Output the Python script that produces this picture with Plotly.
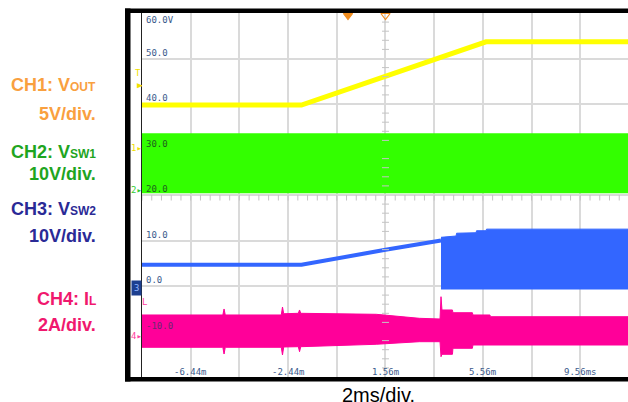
import numpy as np
import plotly.graph_objects as go

# ---------------- data ----------------
# CH1 Vout (yellow), screen units: 10 units per division
t_vout = [-8.44, -1.89, 5.69, 11.52]
v_vout = [39.78, 39.78, 53.67, 53.67]

# CH2 Vsw1 (green) switching envelope
t_sw1 = [-8.44, 11.52]
sw1_hi = [33.56, 33.56]
sw1_lo = [20.37, 20.37]

# CH3 Vsw2 (blue) - single trace before switching starts
t_sw2_line = [-8.44, -1.89, 1.56, 3.84]
v_sw2_line = [4.68, 4.68, 7.95, 10.0]
# CH3 switching envelope after switching starts
t_sw2_band = [3.84, 4.46, 4.48, 5.28, 5.30, 5.69, 5.71, 11.52]
sw2_hi = [10.7, 10.99, 11.6, 11.71, 12.15, 12.15, 12.5, 12.5]
sw2_lo = [-0.66, -0.66, -0.66, -0.66, -0.66, -0.66, -0.66, -0.66]

# CH4 inductor current (pink) envelope
t_il = [-8.44, -5.12, -5.07, -5.02, -2.72, -2.67, -2.62, -2.02, -1.97, -1.92,
        1.18, 2.95, 3.80, 3.84, 3.88, 4.31, 4.33, 5.13, 5.15, 5.85, 5.87, 11.52]
il_hi = [-6.37, -6.37, -5.05, -6.37, -6.37, -4.62, -6.10, -6.00, -5.27, -6.00,
         -6.22, -7.10, -7.25, -2.35, -5.27, -5.27, -5.87, -5.87, -6.37, -6.37, -6.75, -6.75]
il_lo = [-13.47, -13.47, -14.95, -13.47, -13.47, -15.16, -13.40, -13.34, -14.44, -13.34,
         -12.81, -12.24, -12.24, -15.54, -15.01, -15.01, -13.69, -13.69, -12.97, -12.97, -12.97, -12.97]

# cursor markers on top edge
cursor_t = [0.02, 1.56]

# graticule labels
y_label_vals = [60, 50, 40, 30, 20, 10, 0, -10]
y_label_txt = ["60.0V", "50.0", "40.0", "30.0", "20.0", "10.0", "0.0", "-10.0"]
x_label_vals = [-6.44, -2.44, 1.56, 5.56, 9.56]
x_label_txt = ["-6.44m", "-2.44m", "1.56m", "5.56m", "9.56ms"]

X_RANGE = [-8.44, 11.52]
Y_RANGE = [-20, 60]

# ---------------- layout geometry ----------------
W, H = 628, 402
L, R_PX, T, B_PX = 142, 628, 13, 377
PW, PH = R_PX - L, B_PX - T


def px_x(p):
    return (p - L) / PW


def px_y(p):
    return (B_PX - p) / PH


fig = go.Figure()

# CH2 green band
fig.add_trace(go.Scatter(x=t_sw1, y=sw1_lo, mode="lines", line=dict(width=0, color="#33ff00"),
                         showlegend=False, hoverinfo="skip"))
fig.add_trace(go.Scatter(x=t_sw1, y=sw1_hi, mode="lines", line=dict(width=0, color="#33ff00"),
                         fill="tonexty", fillcolor="#33ff00", showlegend=False, hoverinfo="skip"))

# CH1 yellow
fig.add_trace(go.Scatter(x=t_vout, y=v_vout, mode="lines", line=dict(width=5, color="#ffff00"),
                         showlegend=False, hoverinfo="skip"))

# CH3 blue
fig.add_trace(go.Scatter(x=t_sw2_line, y=v_sw2_line, mode="lines", line=dict(width=4, color="#3366ff"),
                         showlegend=False, hoverinfo="skip"))
fig.add_trace(go.Scatter(x=t_sw2_band + t_sw2_band[::-1], y=sw2_hi + sw2_lo[::-1], mode="lines",
                         line=dict(width=1, color="#3366ff"), fill="toself", fillcolor="#3366ff",
                         showlegend=False, hoverinfo="skip"))

# CH4 pink
fig.add_trace(go.Scatter(x=t_il + t_il[::-1], y=il_hi + il_lo[::-1], mode="lines",
                         line=dict(width=1, color="#ff0099"), fill="toself", fillcolor="#ff0099",
                         showlegend=False, hoverinfo="skip"))

# centre-line graticule ticks
ctick_y = [v for v in np.arange(-20, 60.01, 2) if v % 10 != 0]
fig.add_trace(go.Scatter(x=[1.56] * len(ctick_y), y=ctick_y, mode="markers",
                         marker=dict(symbol="line-ew", size=5, line=dict(width=1, color="#c4c4c4")),
                         showlegend=False, hoverinfo="skip"))
ctick_x = [v for v in np.arange(-8.44, 11.6, 0.4)]
fig.add_trace(go.Scatter(x=ctick_x, y=[19.4] * len(ctick_x), mode="markers",
                         marker=dict(symbol="line-ns", size=4, line=dict(width=1, color="#c4c4c4")),
                         showlegend=False, hoverinfo="skip"))

# cursor markers
fig.add_trace(go.Scatter(x=cursor_t, y=[59.45, 59.45], mode="markers", cliponaxis=False,
                         marker=dict(symbol=["triangle-down", "triangle-down-open"], size=8,
                                     color="#f08c1e", line=dict(width=1.2, color="#f08c1e")),
                         showlegend=False, hoverinfo="skip"))

ann = []
mono = "DejaVu Sans Mono"
for v, txt in zip(y_label_vals, y_label_txt):
    col = "#3a5a8c"
    if v in (30, 20):
        col = "#1f5f1f"
    if v == -10:
        col = "#6a2a70"
    if v == 60:
        ann.append(dict(x=0.004, xref="paper", y=px_y(19.5), yref="paper", text=txt, showarrow=False,
                        xanchor="left", yanchor="middle", font=dict(family=mono, size=9, color=col)))
    else:
        ann.append(dict(x=0.004, xref="paper", y=v, yref="y", text=txt, showarrow=False,
                        xanchor="left", yanchor="middle", yshift=6,
                        font=dict(family=mono, size=9, color=col)))
for v, txt in zip(x_label_vals, x_label_txt):
    ann.append(dict(x=v, xref="x", y=px_y(372), yref="paper", text=txt, showarrow=False,
                    xanchor="center", yanchor="middle", font=dict(family=mono, size=9, color="#3a5a8c")))

# left channel descriptions
sans = "Liberation Sans, Arial, sans-serif"


def small(s):
    return '<span style="font-size:12px">' + s + '</span>'


left_labels = [
    ("CH1: V" + small("OUT"), 85, "#f9a03f"),
    ("5V/div.", 114, "#f9a03f"),
    ("CH2: V" + small("SW1"), 152, "#1fa51f"),
    ("10V/div.", 174, "#1fa51f"),
    ("CH3: V" + small("SW2"), 209, "#2a2a96"),
    ("10V/div.", 236, "#2a2a96"),
    ("CH4: I" + small("L"), 299, "#f0186e"),
    ("2A/div.", 325, "#f0186e"),
]
for txt, yc, col in left_labels:
    ann.append(dict(x=px_x(98), xref="paper", y=px_y(yc), yref="paper", text="<b>" + txt + "</b>",
                    showarrow=False, xanchor="right", yanchor="middle",
                    font=dict(family=sans, size=18, color=col)))

ann.append(dict(x=px_x(378), xref="paper", y=px_y(395), yref="paper", text="2ms/div.",
                showarrow=False, xanchor="center", yanchor="middle",
                font=dict(family=sans, size=20, color="#000000")))

# channel ground markers in the left gutter
marks = [("T", 138, 73, "#f0e000", None), ("▶", 140, 85, "#f0e000", None),
         ("1▸", 136, 148, "#f0e000", None), ("2▸", 136, 190, "#33cc33", None),
         ("3", 136, 288, "#8fb4ff", "#1d3f8f"), ("4▸", 136, 336, "#ff3fa0", None),
         ("L", 144, 302, "#ff40a0", None)]
for txt, xp, yp, col, bg in marks:
    d = dict(x=px_x(xp), xref="paper", y=px_y(yp), yref="paper", text=txt, showarrow=False,
             xanchor="center", yanchor="middle", font=dict(family=mono, size=9, color=col))
    if bg:
        d["bgcolor"] = bg
        d["borderpad"] = 2
    ann.append(d)

shapes = [
    dict(type="rect", xref="paper", yref="paper", x0=px_x(125), x1=px_x(130.5), y0=px_y(381.5), y1=px_y(8.5),
         fillcolor="black", line=dict(width=0), layer="above"),
    dict(type="rect", xref="paper", yref="paper", x0=px_x(125), x1=px_x(630), y0=px_y(13), y1=px_y(8.5),
         fillcolor="black", line=dict(width=0), layer="above"),
    dict(type="rect", xref="paper", yref="paper", x0=px_x(125), x1=px_x(630), y0=px_y(381.5), y1=px_y(377),
         fillcolor="black", line=dict(width=0), layer="above"),
]

fig.update_layout(
    width=W, height=H,
    margin=dict(l=L, r=W - R_PX, t=T, b=H - B_PX, pad=0),
    paper_bgcolor="white", plot_bgcolor="white",
    showlegend=False,
    annotations=ann, shapes=shapes,
    xaxis=dict(range=X_RANGE, tick0=-8.44, dtick=2, showticklabels=False, ticks="",
               showgrid=True, gridcolor="#dadada", gridwidth=1.5, zeroline=False,
               showline=True, linecolor="#222222", linewidth=1, mirror=False, fixedrange=True),
    yaxis=dict(range=Y_RANGE, tick0=-20, dtick=10, showticklabels=False, ticks="",
               showgrid=True, gridcolor="#dadada", gridwidth=1.5, zeroline=False,
               showline=True, linecolor="#222222", linewidth=1, fixedrange=True),
)

fig.write_html("out.html", config={"displayModeBar": False},
               post_script="document.body.style.margin='0px';document.body.style.overflow='hidden';")
